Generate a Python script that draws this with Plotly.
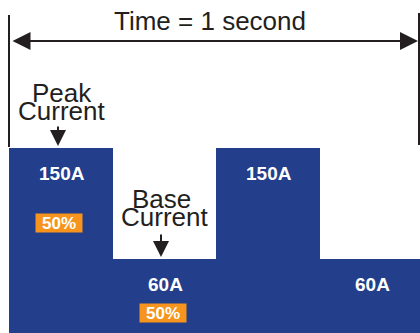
import plotly.graph_objects as go

# pulse waveform: one second split into four equal segments
segments = [0, 1, 2, 3]
current = [150, 60, 150, 60]
current_labels = ["150A", "60A", "150A", "60A"]
duty_labels = ["50%", "50%"]
title_text = "Time = 1 second"
peak_label = ["Peak", "Current"]
base_label = ["Base", "Current"]

BLUE = "#233f8b"
ORANGE = "#f7941d"
INK = "#231f20"
FONT = "Arial, 'Liberation Sans', sans-serif"

W, H = 420, 333


def px(x):
    return x / W


def py(y):
    return 1 - y / H


def label(cx, cy, text, size, color=INK, **kw):
    return dict(x=px(cx), y=py(cy), xref="paper", yref="paper", text=text,
                showarrow=False, xanchor="center", yanchor="middle",
                font=dict(family=FONT, size=size, color=color), **kw)


fig = go.Figure(go.Bar(
    x=segments, y=current, width=1, marker=dict(color=BLUE, line=dict(width=0)),
    hoverinfo="skip"))

ann = []
# amperage labels inside each segment
for i, (v, t) in enumerate(zip(current, current_labels)):
    ann.append(dict(x=i, y=v, xref="x", yref="y", text="<b>%s</b>" % t,
                    showarrow=False, yshift=-25, xshift=1,
                    font=dict(family=FONT, size=19, color="white")))

# duty cycle badges
ann.append(label(58.5, 223, "<b>%s</b>" % duty_labels[0], 17, "white",
                 bgcolor=ORANGE, width=46, height=18, borderpad=0))
ann.append(label(163, 313, "<b>%s</b>" % duty_labels[1], 17, "white",
                 bgcolor=ORANGE, width=46, height=18, borderpad=0))

# title
ann.append(label(210, 21, title_text, 26))

# callouts
for (cx, cy), t in zip([(62, 93), (61, 111)], peak_label):
    ann.append(label(cx, cy, t, 26))
for (cx, cy), t in zip([(161, 199), (164, 217)], base_label):
    ann.append(label(cx, cy, t, 26))

# down arrows
for ax_, y0, y1 in [(58, 125, 146), (161, 233, 257)]:
    ann.append(dict(x=px(ax_), y=py(y1), xref="paper", yref="paper", text="",
                    showarrow=True, ax=0, ay=-(y1 - y0),
                    arrowhead=2, arrowsize=1.6, arrowwidth=2, arrowcolor=INK))

# double-headed time arrow
ann.append(dict(x=px(418), y=py(41), xref="paper", yref="paper", text="",
                showarrow=True, ax=-(418 - 11), ay=0, arrowside="end+start",
                arrowhead=2, arrowsize=1.8, arrowwidth=2, arrowcolor=INK))

shapes = [
    dict(type="line", xref="paper", yref="paper", x0=px(9), x1=px(9),
         y0=py(15), y1=py(147), line=dict(color=INK, width=2)),
    dict(type="line", xref="paper", yref="paper", x0=px(419), x1=px(419),
         y0=py(13), y1=py(145), line=dict(color=INK, width=2)),
]

unit = 103.7
x0 = -0.5 - 9 / unit
fig.update_layout(
    width=W, height=H, margin=dict(l=0, r=0, t=0, b=0),
    paper_bgcolor="white", plot_bgcolor="white", showlegend=False,
    bargap=0, annotations=ann, shapes=shapes,
    xaxis=dict(range=[x0, x0 + W / unit], visible=False, fixedrange=True),
    yaxis=dict(range=[0, 270], visible=False, fixedrange=True),
)

fig.write_html("out.html", config=dict(displayModeBar=False),
               post_script="document.body.style.margin='0';")
